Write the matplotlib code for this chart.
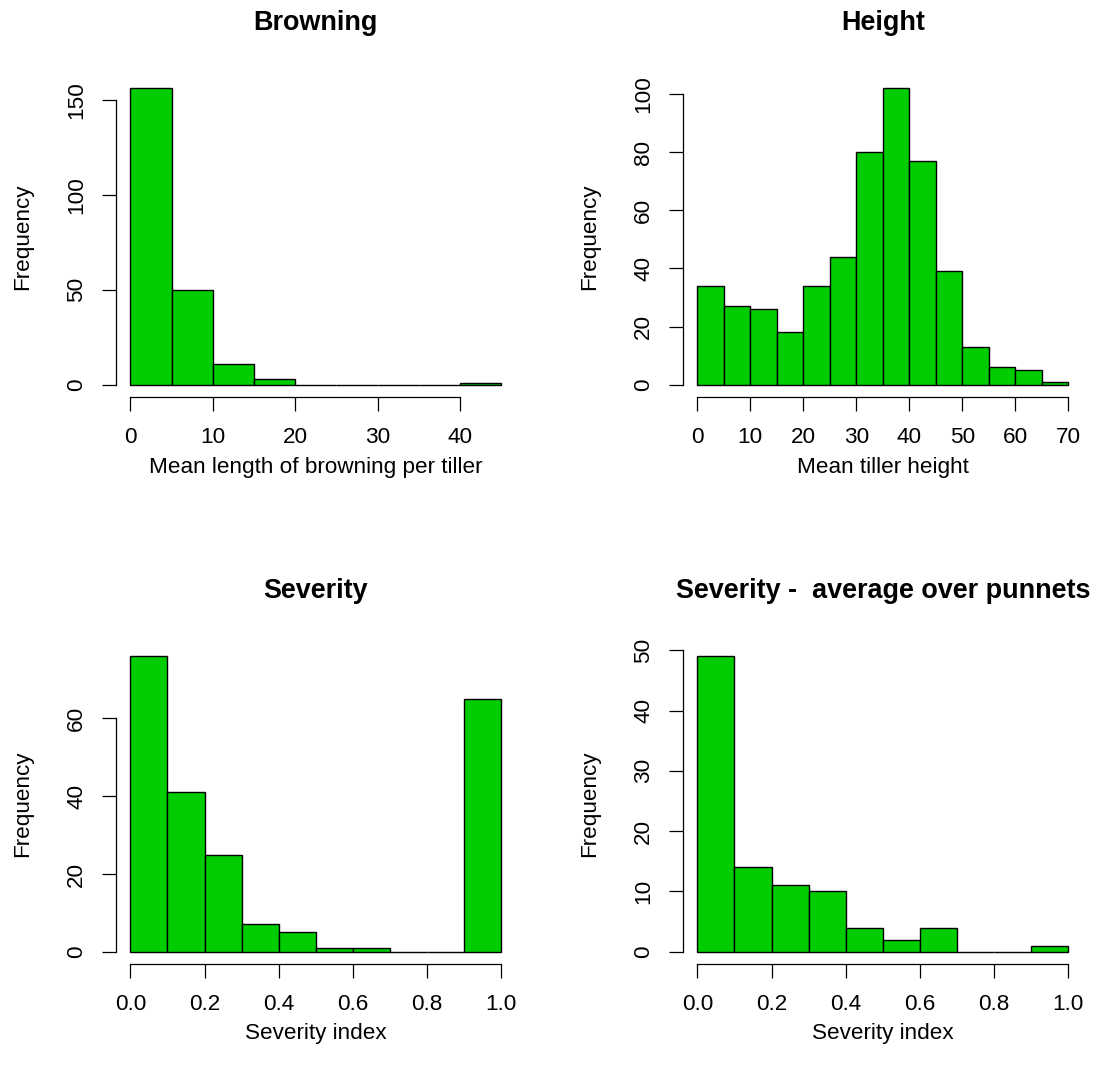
import numpy as np
import matplotlib
matplotlib.use("Agg")
import matplotlib.pyplot as plt

plt.rcParams["font.family"] = ["Liberation Sans", "DejaVu Sans"]

# Histogram bin edges and counts
browning_breaks = [0, 5, 10, 15, 20, 25, 30, 35, 40, 45]
browning_counts = [156, 50, 11, 3, 0, 0, 0, 0, 1]

height_breaks = [0, 5, 10, 15, 20, 25, 30, 35, 40, 45, 50, 55, 60, 65, 70]
height_counts = [34, 27, 26, 18, 34, 44, 80, 102, 77, 39, 13, 6, 5, 1]

severity_breaks = [0.0, 0.1, 0.2, 0.3, 0.4, 0.5, 0.6, 0.7, 0.8, 0.9, 1.0]
severity_counts = [76, 41, 25, 7, 5, 1, 1, 0, 0, 65]
severity_avg_counts = [49, 14, 11, 10, 4, 2, 4, 0, 0, 1]

titles = ["Browning", "Height", "Severity", "Severity -  average over punnets"]
xlabels = ["Mean length of browning per tiller", "Mean tiller height",
           "Severity index", "Severity index"]
xticks = [[0, 10, 20, 30, 40],
          [0, 10, 20, 30, 40, 50, 60, 70],
          [0.0, 0.2, 0.4, 0.6, 0.8, 1.0],
          [0.0, 0.2, 0.4, 0.6, 0.8, 1.0]]
xticklabels = [["0", "10", "20", "30", "40"],
               ["0", "10", "20", "30", "40", "50", "60", "70"],
               ["0.0", "0.2", "0.4", "0.6", "0.8", "1.0"],
               ["0.0", "0.2", "0.4", "0.6", "0.8", "1.0"]]
yticks = [[0, 50, 100, 150],
          [0, 20, 40, 60, 80, 100],
          [0, 20, 40, 60],
          [0, 10, 20, 30, 40, 50]]

W, H, DPI = 1104, 1073, 100
fig = plt.figure(figsize=(W / DPI, H / DPI), dpi=DPI)
fig.patch.set_facecolor("white")

# plot regions in pixels: (left, top, right, bottom)
boxes = [(115.5, 76.5, 516.0, 396.5),
         (682.5, 76.5, 1083.0, 396.5),
         (115.5, 644.5, 516.0, 963.5),
         (682.5, 644.5, 1083.0, 963.5)]

data = [(browning_breaks, browning_counts),
        (height_breaks, height_counts),
        (severity_breaks, severity_counts),
        (severity_breaks, severity_avg_counts)]

FS = 16.2
GREEN = "#00CD00"

for i, (box, (breaks, counts)) in enumerate(zip(boxes, data)):
    l, t, r, b = box
    ax = fig.add_axes([l / W, 1 - b / H, (r - l) / W, (b - t) / H])
    edges = np.asarray(breaks, dtype=float)
    ax.bar(edges[:-1], counts, width=np.diff(edges), align="edge",
           color=GREEN, edgecolor="black", linewidth=1.0)
    x0, x1 = edges[0], edges[-1]
    dx = 0.04 * (x1 - x0)
    ymax = max(counts)
    ax.set_xlim(x0 - dx, x1 + dx)
    ax.set_ylim(-0.04 * ymax, ymax * 1.04)

    for side in ("top", "right"):
        ax.spines[side].set_visible(False)
    for side in ("left", "bottom"):
        ax.spines[side].set_linewidth(0.9)
    ax.spines["bottom"].set_bounds(xticks[i][0], xticks[i][-1])
    ax.spines["left"].set_bounds(yticks[i][0], yticks[i][-1])

    ax.set_xticks(xticks[i])
    ax.set_xticklabels(xticklabels[i])
    ax.set_yticks(yticks[i])
    ax.set_yticklabels([str(v) for v in yticks[i]])
    ax.tick_params(axis="both", direction="out", length=9.8, width=0.9,
                   labelsize=FS, colors="black")
    ax.tick_params(axis="x", pad=12.0)
    ax.tick_params(axis="y", pad=10.5, labelrotation=90)
    for lab in ax.get_yticklabels():
        lab.set_verticalalignment("center")
    ax.set_facecolor("white")

    cx = (l + r) / 2
    cy = (t + b) / 2
    fig.text(cx / W, 1 - (t - 46) / H, titles[i], ha="center", va="baseline",
             fontsize=FS * 1.2, fontweight="bold")
    fig.text(cx / W, 1 - (b + 76) / H, xlabels[i], ha="center",
             va="baseline", fontsize=FS)
    fig.text((l - 93) / W, 1 - cy / H, "Frequency", ha="center",
             va="center", rotation=90, fontsize=FS)

fig.savefig("out.png", dpi=DPI, facecolor="white")
